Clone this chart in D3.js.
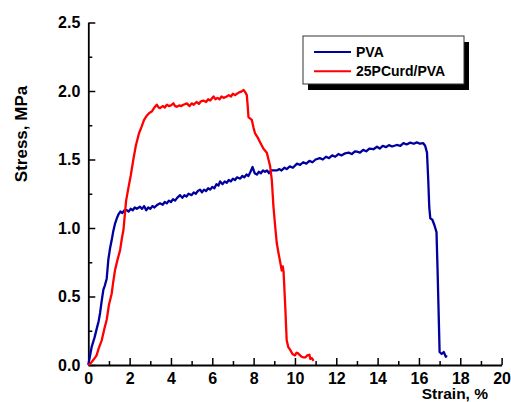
<!DOCTYPE html>
<html><head><meta charset="utf-8">
<script src="https://cdn.jsdelivr.net/npm/d3@7"></script>
<style>
html,body{margin:0;padding:0;background:#fff;overflow:hidden;}
text{font-family:"Liberation Sans",Arial,sans-serif;font-weight:bold;}
</style></head>
<body><svg id="c" width="511" height="402"></svg>
<script>
const seriesNames = ["PVA", "25PCurd/PVA"];
const seriesColors = ["#0000a0", "#ff0000"];
const xTicks = [0,2,4,6,8,10,12,14,16,18,20];
const yTicks = [0,0.5,1.0,1.5,2.0,2.5];

const pvaStrain = [0,0.16,0.3,0.4,0.5,0.57,0.65,0.73,0.8,0.89,0.97,1.05,1.13,1.2,1.29,1.38,1.46,1.55,1.65,1.75,1.86,1.95,2.05,2.15,2.25,2.35,2.5,2.6,2.7,2.8,2.9,3.0,3.1,3.2,3.35,3.47,3.6,3.7,3.8,3.9,4.0,4.1,4.2,4.3,4.44,4.55,4.65,4.75,4.85,5.0,5.1,5.2,5.3,5.41,5.5,5.6,5.7,5.8,5.9,6.0,6.1,6.2,6.3,6.38,6.5,6.6,6.7,6.8,6.9,7.0,7.1,7.2,7.35,7.45,7.55,7.65,7.75,7.85,7.95,8.05,8.16,8.25,8.35,8.45,8.55,8.65,8.75,8.85,8.96,9.12,9.25,9.35,9.5,9.6,9.75,9.9,10.1,10.25,10.4,10.55,10.7,10.85,11.0,11.2,11.35,11.5,11.65,11.8,11.95,12.1,12.25,12.43,12.6,12.75,12.9,13.0,13.15,13.3,13.45,13.6,13.8,13.97,14.1,14.25,14.4,14.55,14.7,14.93,15.1,15.25,15.4,15.58,15.75,15.9,16.05,16.2,16.3,16.39,16.45,16.5,16.55,16.65,16.75,16.85,16.9,16.95,17.0,17.1,17.2,17.3,17.35];
const pvaStress = [0,0.13,0.2,0.26,0.32,0.38,0.47,0.55,0.58,0.63,0.77,0.85,0.91,0.97,1.03,1.07,1.1,1.12,1.11,1.13,1.13,1.12,1.14,1.13,1.15,1.14,1.155,1.14,1.16,1.13,1.15,1.14,1.16,1.15,1.17,1.18,1.17,1.19,1.18,1.2,1.19,1.21,1.2,1.22,1.24,1.22,1.24,1.23,1.25,1.24,1.26,1.25,1.27,1.28,1.26,1.28,1.27,1.29,1.28,1.30,1.29,1.32,1.31,1.34,1.32,1.34,1.33,1.35,1.34,1.36,1.35,1.37,1.36,1.38,1.37,1.39,1.38,1.41,1.445,1.40,1.39,1.41,1.40,1.42,1.41,1.42,1.40,1.42,1.42,1.42,1.43,1.42,1.44,1.43,1.45,1.44,1.47,1.46,1.48,1.47,1.49,1.48,1.50,1.51,1.50,1.52,1.51,1.53,1.52,1.54,1.53,1.545,1.55,1.54,1.56,1.557,1.55,1.57,1.56,1.58,1.575,1.593,1.58,1.60,1.59,1.605,1.595,1.606,1.60,1.62,1.61,1.623,1.615,1.625,1.615,1.62,1.60,1.55,1.35,1.15,1.07,1.06,1.02,0.97,0.7,0.4,0.095,0.08,0.095,0.06,0.07];

const pcStrain = [0,0.1,0.24,0.4,0.5,0.65,0.77,0.89,1.0,1.13,1.2,1.29,1.4,1.54,1.62,1.7,1.83,1.95,2.05,2.18,2.3,2.45,2.58,2.7,2.83,2.95,3.07,3.2,3.31,3.4,3.47,3.6,3.7,3.8,3.9,4.0,4.12,4.2,4.28,4.4,4.5,4.6,4.77,4.9,5.0,5.1,5.25,5.35,5.45,5.57,5.7,5.8,5.9,6.06,6.15,6.25,6.35,6.45,6.55,6.7,6.8,6.9,7.0,7.1,7.19,7.3,7.4,7.52,7.6,7.67,7.72,7.75,7.91,8.0,8.07,8.2,8.3,8.47,8.64,8.72,8.8,8.88,8.96,9.05,9.12,9.2,9.3,9.36,9.41,9.45,9.53,9.6,9.68,9.77,9.88,10.0,10.08,10.15,10.25,10.33,10.42,10.5,10.6,10.7,10.74,10.82,10.9];
const pcStress = [0,0.01,0.036,0.07,0.12,0.18,0.26,0.33,0.44,0.52,0.6,0.69,0.76,0.84,0.92,0.985,1.2,1.3,1.38,1.5,1.6,1.69,1.74,1.79,1.82,1.84,1.85,1.88,1.90,1.88,1.875,1.89,1.88,1.90,1.89,1.895,1.91,1.89,1.885,1.895,1.89,1.9,1.91,1.89,1.91,1.9,1.92,1.905,1.925,1.93,1.92,1.94,1.93,1.96,1.94,1.95,1.94,1.96,1.95,1.96,1.97,1.96,1.98,1.97,1.98,1.99,1.995,2.007,1.99,1.97,1.88,1.81,1.79,1.73,1.69,1.66,1.63,1.58,1.55,1.5,1.45,1.35,1.155,1.0,0.89,0.82,0.74,0.69,0.72,0.68,0.43,0.18,0.13,0.11,0.08,0.07,0.09,0.085,0.07,0.06,0.055,0.055,0.07,0.075,0.045,0.05,0.03];

const svg = d3.select("#c");
const m = {l:88.3, t:22.5, w:413.3, h:342.5};
const x = d3.scaleLinear().domain([0,20]).range([m.l, m.l+m.w]);
const y = d3.scaleLinear().domain([0,2.5]).range([m.t+m.h, m.t]);

// minor ticks
svg.append("g").attr("transform",`translate(0,${m.t+m.h})`)
  .call(d3.axisBottom(x).tickValues(d3.range(1,20,2)).tickSize(-4).tickSizeOuter(0).tickFormat(""))
  .call(g=>g.select(".domain").remove())
  .selectAll("line").attr("stroke-width",1.5);
svg.append("g").attr("transform",`translate(${m.l},0)`)
  .call(d3.axisLeft(y).tickValues([0.25,0.75,1.25,1.75,2.25]).tickSize(-4).tickSizeOuter(0).tickFormat(""))
  .call(g=>g.select(".domain").remove())
  .selectAll("line").attr("stroke-width",1.5);

const xa = svg.append("g").attr("transform",`translate(0,${m.t+m.h})`)
  .call(d3.axisBottom(x).tickValues(xTicks).tickSize(-7).tickSizeOuter(0).tickPadding(8).tickFormat(d3.format("d")));
const ya = svg.append("g").attr("transform",`translate(${m.l},0)`)
  .call(d3.axisLeft(y).tickValues(yTicks).tickSize(-7).tickSizeOuter(0).tickPadding(8).tickFormat(d3.format(".1f")));
[xa,ya].forEach(a=>{
  a.select(".domain").attr("stroke-width",1.8);
  a.selectAll(".tick line").attr("stroke-width",1.5);
  a.selectAll("text").style("font-size","16px").attr("fill","#000");
});

const line = d3.line().x(d=>x(d[0])).y(d=>y(d[1]));
const pva = pvaStrain.map((s,i)=>[s,pvaStress[i]]);
const pc = pcStrain.map((s,i)=>[s,pcStress[i]]);
svg.append("path").datum(pva).attr("d",line).attr("fill","none")
  .attr("stroke",seriesColors[0]).attr("stroke-width",2.3).attr("stroke-linejoin","round");
svg.append("path").datum(pc).attr("d",line).attr("fill","none")
  .attr("stroke",seriesColors[1]).attr("stroke-width",2.3).attr("stroke-linejoin","round");

// axis titles
svg.append("text").attr("transform","translate(26.5,134) rotate(-90)")
  .attr("text-anchor","middle").style("font-size","17px").text("Stress, MPa");
svg.append("text").attr("x",488).attr("y",398.5).attr("text-anchor","end")
  .style("font-size","15.5px").text("Strain, %");

// legend
const lg = svg.append("g");
lg.append("rect").attr("x",308).attr("y",42).attr("width",161).attr("height",48).attr("fill","#000");
lg.append("rect").attr("x",303).attr("y",36).attr("width",161).attr("height",48)
  .attr("fill","#fff").attr("stroke","#333").attr("stroke-width",1);
seriesNames.forEach((n,i)=>{
  const yy = 52 + i*19.3;
  lg.append("line").attr("x1",314).attr("x2",351).attr("y1",yy).attr("y2",yy)
    .attr("stroke",seriesColors[i]).attr("stroke-width",2);
  lg.append("text").attr("x",356).attr("y",yy+5).style("font-size","14px").text(n);
});
</script></body></html>
